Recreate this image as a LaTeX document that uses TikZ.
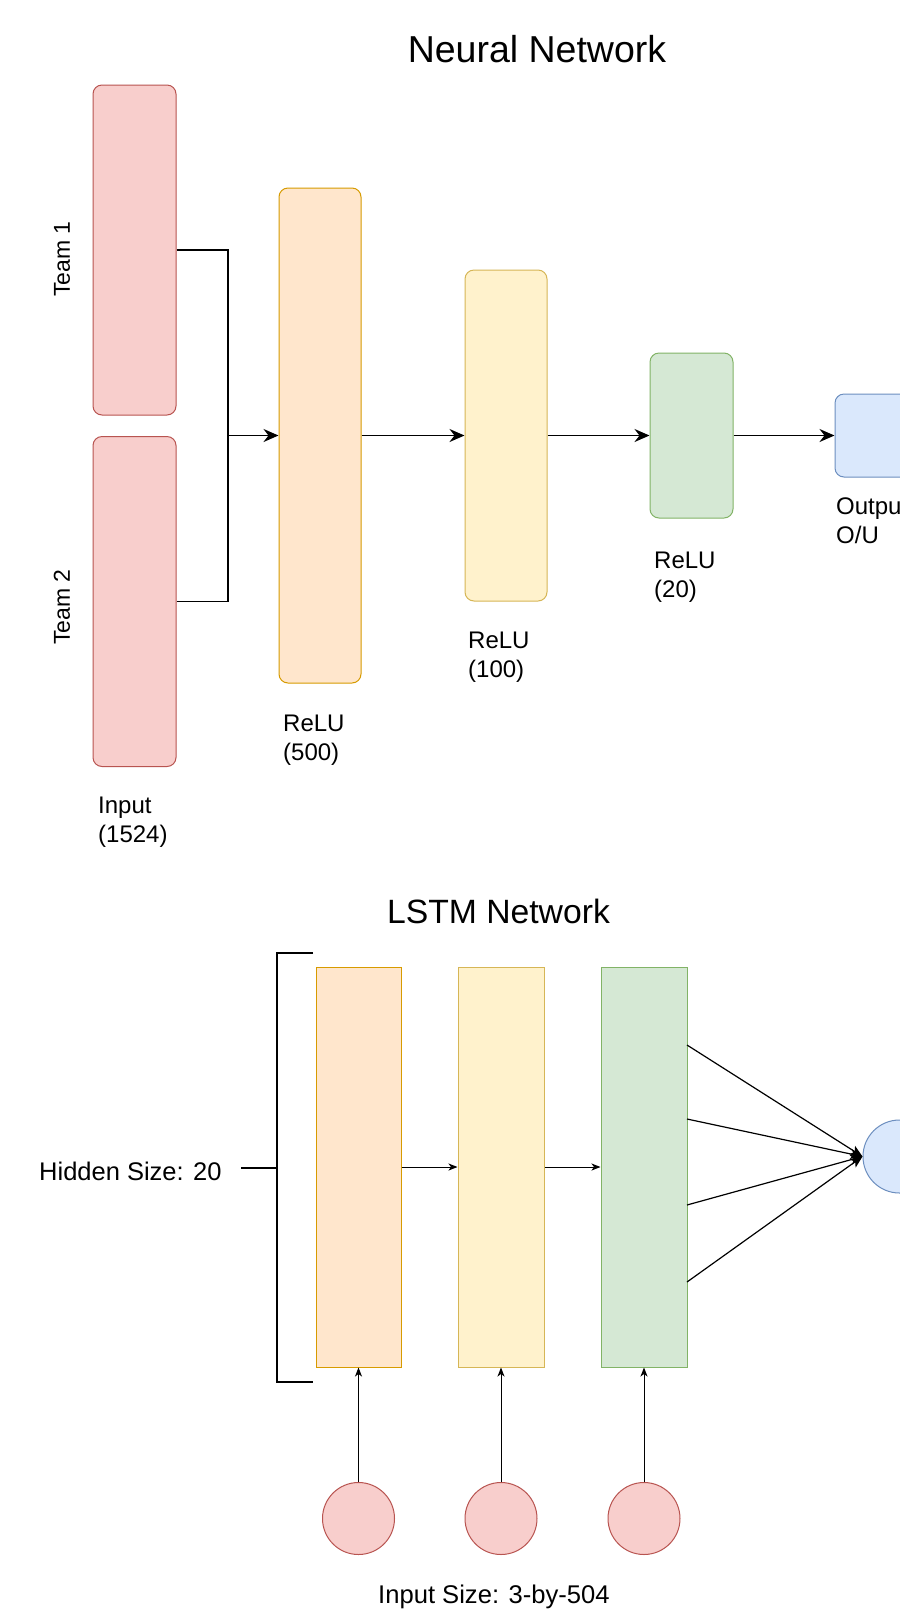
\documentclass[tikz,border=0pt]{standalone}
\usepackage{fontspec}
\setmainfont{Liberation Sans}
\usetikzlibrary{arrows.meta}
\definecolor{redF}{HTML}{F8CECC}\definecolor{redD}{HTML}{B85450}
\definecolor{orgF}{HTML}{FFE6CC}\definecolor{orgD}{HTML}{D79B00}
\definecolor{yelF}{HTML}{FFF2CC}\definecolor{yelD}{HTML}{D6B656}
\definecolor{grnF}{HTML}{D5E8D4}\definecolor{grnD}{HTML}{82B366}
\definecolor{bluF}{HTML}{DAE8FC}\definecolor{bluD}{HTML}{6C8EBF}
\tikzset{
  layer/.style={draw, line width=1pt, inner sep=0pt, rounded corners=9pt},
  flat/.style={draw, line width=1pt, inner sep=0pt},
  redc/.style={fill=redF, draw=redD},
  orgc/.style={fill=orgF, draw=orgD},
  yelc/.style={fill=yelF, draw=yelD},
  grnc/.style={fill=grnF, draw=grnD},
  bluc/.style={fill=bluF, draw=bluD},
  ball/.style={circle, draw, line width=1pt, inner sep=0pt, minimum size=72pt},
  conn/.style={line width=1.6pt, -{Stealth[length=15pt,width=13pt,inset=5pt]}},
  thin/.style={line width=1pt, -{Stealth[length=9pt,width=7pt,inset=2.5pt]}},
  fan/.style={line width=1.2pt, -{Stealth[length=12pt,width=10pt,inset=3pt]}},
  lbl/.style={anchor=north west, inner sep=0pt, align=left, font=\fontsize{24}{28.5}\selectfont},
  bracket/.style={line width=2pt},
}
\begin{document}
\begin{tikzpicture}[x=1pt,y=-1pt]
\useasboundingbox (0,0) rectangle (900,1610);
\clip (0,0) rectangle (900,1610);
\fill[white] (0,0) rectangle (900,1610);

% ---------- Neural Network ----------
\node[anchor=base, inner sep=0pt, font=\fontsize{37.5}{40}\selectfont] (t1title) at (537,62) {Neural Network};

\node[layer, redc, minimum width=83pt, minimum height=330pt] (team1) at (134.5,250) {};
\node[layer, redc, minimum width=83pt, minimum height=330pt] (team2) at (134.5,601.5) {};
\node[rotate=90, inner sep=0pt, font=\fontsize{23}{26}\selectfont] (team1lbl) at (62,259) {Team 1};
\node[rotate=90, inner sep=0pt, font=\fontsize{23}{26}\selectfont] (team2lbl) at (62,607) {Team 2};

\node[layer, orgc, minimum width=82pt, minimum height=495pt] (relu500) at (320,435.5) {};
\node[layer, yelc, minimum width=82pt, minimum height=331pt] (relu100) at (506,435.5) {};
\node[layer, grnc, minimum width=83pt, minimum height=165pt] (relu20) at (691.5,435.5) {};
\node[layer, bluc, minimum width=82pt, minimum height=83pt] (out) at (876,435.5) {};

\coordinate (join) at (228,435.5);
\draw[line width=1.6pt] (team1.east) -| (join);
\draw[line width=1.6pt] (team2.east) -| (join);
\draw[conn] (join) -- (relu500.west);
\draw[conn] (relu500.east) -- (relu100.west);
\draw[conn] (relu100.east) -- (relu20.west);
\draw[conn] (relu20.east) -- (out.west);

\node[lbl] (inlbl) at (98,797) {Input\\(1524)};
\node[lbl] (l500) at (283,715) {ReLU\\(500)};
\node[lbl] (l100) at (468,632) {ReLU\\(100)};
\node[lbl] (l20) at (654,552) {ReLU\\(20)};
\node[lbl] (outlbl) at (836,498) {Output\\O/U};

% ---------- LSTM Network ----------
\node[anchor=base, inner sep=0pt, font=\fontsize{33.7}{36}\selectfont] (t2title) at (498.5,923) {LSTM Network};

\node[flat, orgc, minimum width=85pt, minimum height=400pt] (lo) at (358.5,1167) {};
\node[flat, yelc, minimum width=86pt, minimum height=400pt] (ly) at (501,1167) {};
\node[flat, grnc, minimum width=86pt, minimum height=400pt] (lg) at (644,1167) {};

\draw[thin] (lo.east) -- (ly.west);
\draw[thin] (ly.east) -- (lg.west);

\node[ball, bluc, minimum size=73pt] (bc) at (899.5,1156.5) {};
\coordinate (f1) at (687,1045);
\coordinate (f2) at (687,1119);
\coordinate (f3) at (687,1205);
\coordinate (f4) at (687,1282);
\draw[fan] (f1) -- (bc.west);
\draw[fan] (f2) -- (bc.west);
\draw[fan] (f3) -- (bc.west);
\draw[fan] (f4) -- (bc.west);

\node[ball, redc] (c1) at (358.5,1518.5) {};
\node[ball, redc] (c2) at (501,1518.5) {};
\node[ball, redc] (c3) at (644,1518.5) {};
\draw[thin] (c1.north) -- (lo.south);
\draw[thin] (c2.north) -- (ly.south);
\draw[thin] (c3.north) -- (lg.south);

% bracket
\coordinate (bt) at (313,953);
\coordinate (btl) at (277,953);
\coordinate (bbl) at (277,1382);
\coordinate (bb) at (313,1382);
\coordinate (bmid) at (277,1168);
\draw[bracket] (bt) -- (btl) -- (bbl) -- (bb);
\node[anchor=base west, inner sep=0pt, font=\fontsize{25.5}{28}\selectfont] (hid) at (39,1180) {Hidden Size: 20};
\coordinate (tick) at (241,1168);
\draw[bracket] (tick) -- (bmid);

\node[anchor=base west, inner sep=0pt, font=\fontsize{25.6}{28}\selectfont] (insz) at (378,1603) {Input Size: 3-by-504};
\end{tikzpicture}
\end{document}
